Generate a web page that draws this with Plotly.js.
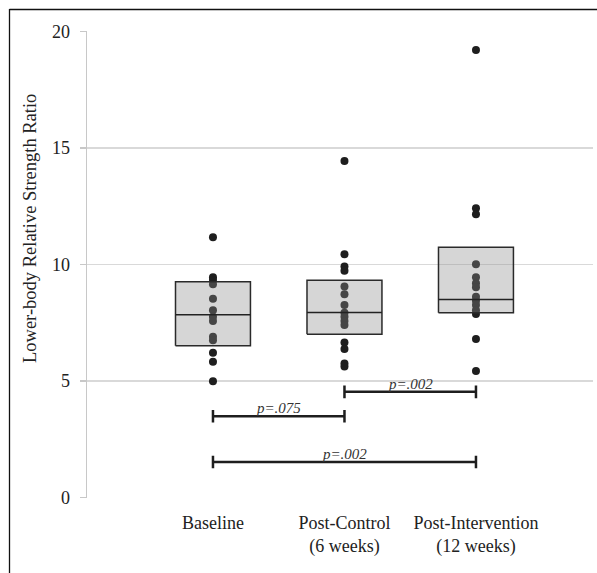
<!DOCTYPE html>
<html>
<head>
<meta charset="utf-8">
<script src="https://cdn.plot.ly/plotly-3.0.1.min.js"></script>
<style>html,body{margin:0;padding:0;background:#fff;}#chart{width:597px;height:573px;}</style>
</head>
<body>
<div id="chart"></div>
<script>
// ---- data ----
const categories = ["Baseline", "Post-Control<br>(6 weeks)", "Post-Intervention<br>(12 weeks)"];
const baseline = [11.17, 9.45, 9.33, 9.15, 8.53, 8.04, 7.76, 7.57, 6.90, 6.75, 6.21, 5.82, 4.99];
const postControl = [14.45, 10.44, 9.91, 9.73, 9.05, 8.72, 8.26, 7.93, 7.76, 7.57, 7.40, 6.65, 6.37, 5.75, 5.62];
const postIntervention = [19.21, 12.42, 12.16, 10.01, 9.45, 9.19, 9.02, 8.62, 8.44, 8.26, 8.04, 7.87, 6.80, 5.43];
const q1 = [6.51, 7.00, 7.93];
const median = [7.84, 7.94, 8.50];
const q3 = [9.26, 9.32, 10.74];
const bracketFrom = [0, 1, 0];
const bracketTo = [1, 2, 2];
const bracketY = [3.48, 4.53, 1.52];
const bracketLabels = ["p=.075", "p=.002", "p=.002"];
const yTickVals = [0, 5, 10, 15, 20];

// ---- layout constants ----
const W = 597, H = 573;
const M = {l: 87, r: 4, t: 31, b: 75};
const yRange = [-0.03, 20.03];
const xRange = [-0.958, 2.89];
const halfBox = 0.285;
const capH = 0.27;
const FONT = "Liberation Serif, Times New Roman, serif";

const groups = [baseline, postControl, postIntervention];
const traces = [];

// points
groups.forEach((vals, i) => {
  traces.push({
    type: "scatter", mode: "markers",
    x: vals.map(() => i), y: vals,
    marker: {color: "#1e1e1e", size: 8},
    hoverinfo: "y", showlegend: false
  });
});

// boxes (drawn over the points, semi-transparent)
q1.forEach((lo, i) => {
  const hi = q3[i];
  traces.push({
    type: "scatter", mode: "lines",
    x: [i - halfBox, i + halfBox, i + halfBox, i - halfBox, i - halfBox],
    y: [lo, lo, hi, hi, lo],
    fill: "toself", fillcolor: "rgba(140,140,140,0.36)",
    line: {color: "#2a2a2a", width: 1.5},
    hoverinfo: "skip", showlegend: false
  });
  traces.push({
    type: "scatter", mode: "lines",
    x: [i - halfBox, i + halfBox], y: [median[i], median[i]],
    line: {color: "#222", width: 1.5},
    hoverinfo: "skip", showlegend: false
  });
});

// brackets
const annotations = [];
bracketFrom.forEach((a, k) => {
  const b = bracketTo[k], y = bracketY[k];
  traces.push({
    type: "scatter", mode: "lines",
    x: [a, a, a, b, b, b], y: [y - capH, y + capH, y, y, y + capH, y - capH],
    line: {color: "#1e1e1e", width: 2.5},
    hoverinfo: "skip", showlegend: false
  });
  annotations.push({
    x: (a + b) / 2, y: y, xref: "x", yref: "y",
    text: "<i>" + bracketLabels[k] + "</i>", showarrow: false,
    yanchor: "bottom", yshift: -2,
    font: {family: FONT, size: 15, color: "#333"}
  });
});

const plotH = H - M.t - M.b;
const plotW = W - M.l - M.r;
const pxToPaperX = px => (px - M.l) / plotW;
const pxToPaperY = py => (H - M.b - py) / plotH;

// y-axis title
annotations.push({
  xref: "paper", yref: "paper",
  x: pxToPaperX(30), y: pxToPaperY(229),
  text: "Lower-body Relative Strength Ratio", textangle: -90,
  showarrow: false, xanchor: "center", yanchor: "middle",
  font: {family: FONT, size: 18.5, color: "#222"}
});

// outer frame (top + left edges)
const shapes = [
  {type: "line", xref: "paper", yref: "paper",
   x0: pxToPaperX(9.5), x1: pxToPaperX(600), y0: pxToPaperY(9.5), y1: pxToPaperY(9.5),
   line: {color: "#111", width: 1.3}},
  {type: "line", xref: "paper", yref: "paper",
   x0: pxToPaperX(9.5), x1: pxToPaperX(9.5), y0: pxToPaperY(9), y1: pxToPaperY(576),
   line: {color: "#111", width: 1.3}}
];

const layout = {
  width: W, height: H,
  margin: M,
  paper_bgcolor: "#fff", plot_bgcolor: "#fff",
  font: {family: FONT, size: 18, color: "#222"},
  showlegend: false,
  xaxis: {
    range: xRange, tickmode: "array", tickvals: [0, 1, 2], ticktext: categories,
    showgrid: false, zeroline: false, showline: false, ticks: "",
    ticklabelstandoff: 12,
    tickfont: {family: FONT, size: 18, color: "#222"}
  },
  yaxis: {
    range: yRange, tickmode: "array", tickvals: yTickVals,
    showgrid: true, gridcolor: "#d9d9d9", gridwidth: 1.5,
    zeroline: false, showline: true, linecolor: "#c8c8c8", linewidth: 1.5,
    ticks: "outside", ticklen: 6, tickcolor: "#c8c8c8", tickwidth: 1.5,
    ticklabelstandoff: 6,
    tickfont: {family: FONT, size: 18, color: "#222"}
  },
  annotations: annotations,
  shapes: shapes
};

Plotly.newPlot("chart", traces, layout, {displayModeBar: false, staticPlot: true});
</script>
</body>
</html>
